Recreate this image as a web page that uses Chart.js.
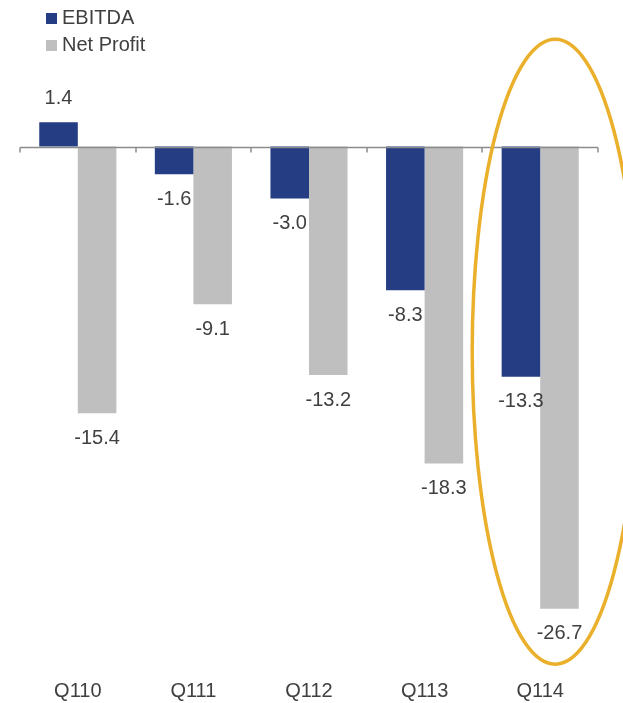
<!DOCTYPE html>
<html>
<head>
<meta charset="utf-8">
<script src="https://cdn.jsdelivr.net/npm/chart.js@4.4.1/dist/chart.umd.min.js"></script>
<style>
    body { margin: 0; background: #fff; }
    #wrap { position: relative; width: 623px; height: 703px; }
    #legend { position: absolute; left: 46px; top: 4px; font-family: Arial, "Liberation Sans", sans-serif; font-size: 20px; color: #404040; line-height: 27px; }
    #legend span.box { display: inline-block; width: 11px; height: 11px; margin-right: 5px; vertical-align: 0px; }
</style>
</head>
<body>
<div id="wrap">
    <canvas id="chart"></canvas>
    <div id="legend"></div>
</div>
<script>
const quarters = ['Q110', 'Q111', 'Q112', 'Q113', 'Q114'];
const ebitda = [1.4, -1.6, -3.0, -8.3, -13.3];
const netProfit = [-15.4, -9.1, -13.2, -18.3, -26.7];
const seriesNames = ['EBITDA', 'Net Profit'];
const seriesColors = ['#253d82', '#bfbfbf'];
const highlightIndex = 4;

const textColor = '#404040';
const fontFamily = 'Arial, "Liberation Sans", sans-serif';

// legend (two rows, top left)
const legendBox = document.getElementById('legend');
seriesNames.forEach((name, i) => {
    const row = document.createElement('div');
    const box = document.createElement('span');
    box.className = 'box';
    box.style.background = seriesColors[i];
    row.appendChild(box);
    row.appendChild(document.createTextNode(name));
    legendBox.appendChild(row);
});

// zero line with tick marks between categories
const zeroLinePlugin = {
    id: 'zeroLine',
    afterDatasetsDraw(chart) {
        const ctx = chart.ctx;
        const x = chart.scales.x;
        const y0 = Math.round(chart.scales.y.getPixelForValue(0)) + 0.5;
        const step = x.getPixelForValue(1) - x.getPixelForValue(0);
        ctx.save();
        ctx.strokeStyle = '#8c8c8c';
        ctx.lineWidth = 1.5;
        ctx.beginPath();
        ctx.moveTo(chart.chartArea.left, y0);
        ctx.lineTo(chart.chartArea.right, y0);
        for (let i = 0; i <= quarters.length; i++) {
            const tx = Math.round(x.getPixelForValue(0) - step / 2 + i * step);
            ctx.moveTo(tx, y0);
            ctx.lineTo(tx, y0 + 5);
        }
        ctx.stroke();
        ctx.restore();
    }
};

// value labels above / below each bar
const valueLabelPlugin = {
    id: 'valueLabels',
    afterDatasetsDraw(chart) {
        const ctx = chart.ctx;
        ctx.save();
        ctx.font = '20px ' + fontFamily;
        ctx.fillStyle = textColor;
        ctx.textAlign = 'center';
        ctx.textBaseline = 'middle';
        chart.data.datasets.forEach((ds, di) => {
            chart.getDatasetMeta(di).data.forEach((bar, i) => {
                const v = ds.data[i];
                const ty = v >= 0 ? bar.y - 24 : bar.y + 25;
                ctx.fillText(v.toFixed(1), bar.x, ty);
            });
        });
        ctx.restore();
    }
};

// gold ellipse round the latest quarter
const highlightPlugin = {
    id: 'highlight',
    afterDraw(chart) {
        const ctx = chart.ctx;
        const x = chart.scales.x;
        const y = chart.scales.y;
        const cx = x.getPixelForValue(highlightIndex) + 15;
        const top = y.getPixelForValue(6.2);
        const bottom = y.getPixelForValue(-29.9);
        ctx.save();
        ctx.strokeStyle = '#ebb02b';
        ctx.lineWidth = 3.5;
        ctx.beginPath();
        ctx.ellipse(cx, (top + bottom) / 2, 83, (bottom - top) / 2, 0, 0, Math.PI * 2);
        ctx.stroke();
        ctx.restore();
    }
};

new Chart(document.getElementById('chart'), {
    type: 'bar',
    data: {
        labels: quarters,
        datasets: [
            { label: seriesNames[0], data: ebitda, backgroundColor: seriesColors[0] },
            { label: seriesNames[1], data: netProfit, backgroundColor: seriesColors[1] }
        ]
    },
    options: {
        responsive: true,
        maintainAspectRatio: false,
        animation: false,
        layout: { padding: { left: 20, right: 25, top: 60, bottom: 0 } },
        datasets: { bar: { categoryPercentage: 0.667, barPercentage: 1.0 } },
        plugins: {
            legend: { display: false },
            tooltip: { enabled: false }
        },
        scales: {
            x: {
                grid: { display: false, drawTicks: false },
                border: { display: false },
                ticks: {
                    color: textColor,
                    font: { family: fontFamily, size: 20 },
                    padding: 13,
                    maxRotation: 0
                },
                afterFit(scale) {
                    scale.height = 37;
                }
            },
            y: {
                display: false,
                min: -30,
                max: 5
            }
        }
    },
    plugins: [zeroLinePlugin, valueLabelPlugin, highlightPlugin]
});
</script>
</body>
</html>
